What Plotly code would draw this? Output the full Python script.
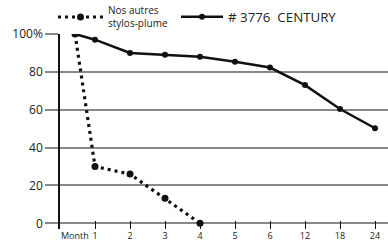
import plotly.graph_objects as go

# Data
month_labels = ["Month", "1", "2", "3", "4", "5", "6", "12", "18", "24"]
month_pos = [0.43, 1, 2, 3, 4, 5, 6, 7, 8, 9]
century_vals = [100, 97, 90, 89, 88, 85.3, 82.3, 73, 60.4, 50.2]
others_pos = [0.43, 1, 2, 3, 4]
others_vals = [100, 30, 26, 13.2, 0]
y_tickvals = [0, 20, 40, 60, 80, 100]
y_ticktext = ["0", "20", "40", "60", "80", "100%"]

font_family = "Open Sans, Noto Sans, sans-serif"

fig = go.Figure()
fig.add_trace(go.Scatter(
    x=others_pos, y=others_vals, mode="lines+markers",
    name="Nos autres<br>stylos-plume", legend="legend",
    line=dict(color="#111111", width=3.2, dash="3px,4px"),
    marker=dict(color="#111111", size=7),
))
fig.add_trace(go.Scatter(
    x=month_pos, y=century_vals, mode="lines+markers",
    name="# 3776  CENTURY", legend="legend2",
    line=dict(color="#111111", width=2.5),
    marker=dict(color="#111111", size=6),
))

fig.add_annotation(x=month_pos[0], y=0, xref="x", yref="paper", yanchor="top",
                   yshift=2, text=month_labels[0], showarrow=False,
                   font=dict(size=9, color="#222222", family=font_family))

fig.update_layout(
    width=388, height=241,
    margin=dict(l=60, r=0, t=34, b=12, autoexpand=False),
    paper_bgcolor="white", plot_bgcolor="white",
    font=dict(family=font_family, color="#222222"),
    showlegend=True,
    legend=dict(orientation="h", xref="container", yref="container",
                x=53 / 388, y=1 - 17 / 241, xanchor="left", yanchor="middle",
                font=dict(size=10), bgcolor="rgba(0,0,0,0)", borderwidth=0,
                itemwidth=45, valign="middle"),
    legend2=dict(orientation="h", xref="container", yref="container",
                 x=176 / 388, y=1 - 17 / 241, xanchor="left", yanchor="middle",
                 font=dict(size=13.3), bgcolor="rgba(0,0,0,0)", borderwidth=0,
                 itemwidth=42),
    xaxis=dict(range=[0, 9.371], tickvals=month_pos[1:], ticktext=month_labels[1:],
               showgrid=False, zeroline=False, showline=False, automargin=False,
               ticks="inside", ticklen=8, tickwidth=1.2, tickcolor="#111111",
               tickfont=dict(size=9), fixedrange=True),
    yaxis=dict(range=[-3, 100], tickvals=y_tickvals, ticktext=y_ticktext,
               showgrid=True, gridcolor="#888888", gridwidth=1.5, automargin=False,
               zeroline=False, showline=True, linecolor="#111111", linewidth=1.5,
               ticks="outside", ticklen=13, tickwidth=1.5, tickcolor="#888888",
               tickfont=dict(size=12), fixedrange=True),
)

fig.write_html("out.html", config={"displayModeBar": False},
               post_script="document.body.style.margin='0';document.body.style.overflow='hidden';")
